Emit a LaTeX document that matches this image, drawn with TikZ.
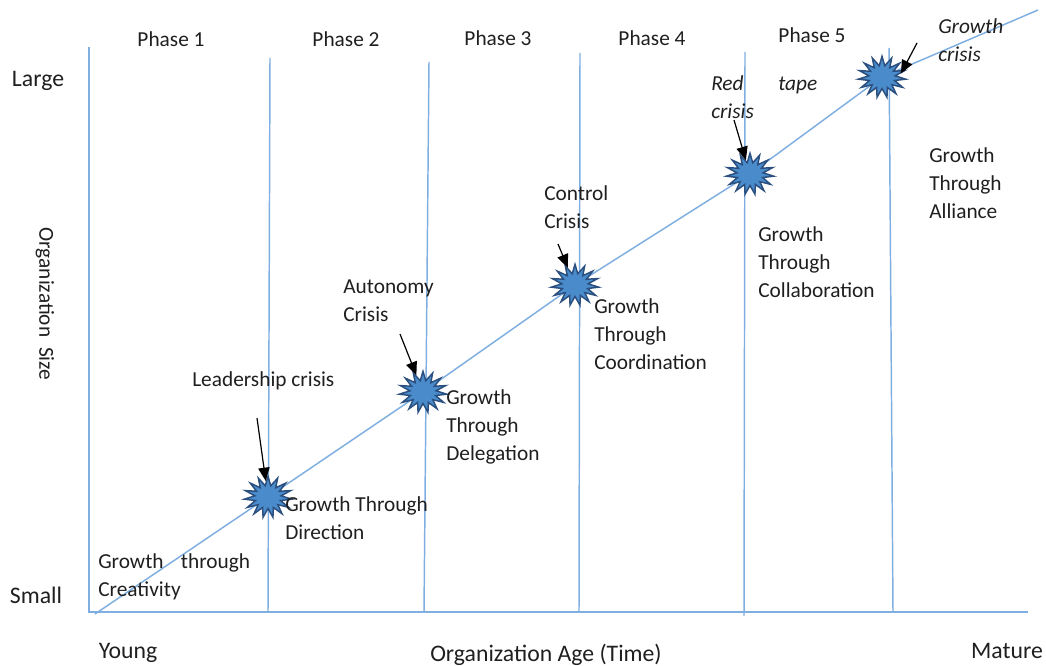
\documentclass[tikz,border=0pt]{standalone}
\usepackage{fontspec}
\setmainfont{Carlito}
\usetikzlibrary{shapes.geometric,arrows.meta}
\definecolor{lineblue}{HTML}{7FAEE0}
\definecolor{starfill}{HTML}{4A8CCB}
\definecolor{stardraw}{HTML}{2B4F7E}
\begin{document}
\begin{tikzpicture}[x=0.75pt,y=-0.75pt,
  txt/.style={font=\fontsize{16}{21}\selectfont, inner sep=0pt, align=left, anchor=north west, text=black!88},
  lbl/.style={font=\fontsize{16}{21}\selectfont, inner sep=0pt, text=black!88},
  axl/.style={font=\fontsize{17.8}{21}\selectfont, inner sep=0pt, text=black!88},
  burst/.style={star, star points=15, star point ratio=1.8, minimum size=31pt, inner sep=0pt,
    fill=starfill, draw=stardraw, line width=1.1pt, xscale=1.15, transform shape},
  guide/.style={draw=lineblue, line width=1.1pt},
  pointer/.style={draw=black, line width=0.9pt, -{Triangle[length=10pt,width=8.5pt]}}]
\useasboundingbox (0,0) rectangle (1046,666);

% axes and phase separators
\draw[guide] (89,47) -- (89,612) -- (1028,612);
\draw[guide] (270,58) -- (268,612);
\draw[guide] (429,62) -- (424,612);
\draw[guide] (580,53) -- (579,612);
\draw[guide] (745,52) -- (744,616);
\draw[guide] (889,48) -- (893,612);

% star centres and diagonal
\coordinate (p0) at (95,614);
\coordinate (p1) at (268,497);
\coordinate (p2) at (423,392);
\coordinate (p3) at (575,285);
\coordinate (p4) at (750,174);
\coordinate (p5) at (882,77);
\coordinate (p6) at (1038,10);
\draw[guide] (p0) -- (p1) -- (p2) -- (p3) -- (p4) -- (p5) -- (p6);

% starbursts
\node[burst] (s1) at (p1) {};
\node[burst] (s2) at (p2) {};
\node[burst] (s3) at (p3) {};
\node[burst] (s4) at (p4) {};
\node[burst] (s5) at (p5) {};

% arrows
\coordinate (c1) at (257,418);
\coordinate (c2) at (400,334);
\coordinate (c3) at (558,244);
\coordinate (c4) at (734,120);
\coordinate (c5) at (917,43);
\draw[pointer] (c1) -- (s1);
\draw[pointer] (c2) -- (s2);
\draw[pointer] (c3) -- (s3);
\draw[pointer] (c4) -- (s4);
\draw[pointer] (c5) -- (s5.12);

% phase titles
\node[lbl] (ph1) at (171,39) {Phase 1};
\node[lbl] (ph2) at (346,39) {Phase 2};
\node[lbl] (ph3) at (498,38) {Phase 3};
\node[lbl] (ph4) at (652,38) {Phase 4};
\node[lbl] (ph5) at (812,35) {Phase 5};

% axis labels
\node[axl] (large) at (38,81) {Large};
\node[axl] (small) at (36,595) {Small};
\node[axl] (young) at (128,653) {Young};
\node[axl] (age) at (546,655) {Organization Age (Time)};
\node[axl] (mature) at (1007,651) {Mature};
\node[lbl, rotate=-90] (size) at (45,304) {Organization\ \ Size};

% crisis labels
\node[txt, font=\fontsize{16}{21}\selectfont\itshape] (gcr) at (938,18) {Growth\\crisis};
\node[txt, font=\fontsize{16}{21}\selectfont\itshape] (rcr) at (711,75) {Red\hspace*{26pt}tape\\crisis};
\node[txt] (ccr) at (544,185) {Control\\Crisis};
\node[txt] (acr) at (343,280) {Autonomy\\Crisis};
\node[txt] (lcr) at (192,371) {Leadership crisis};

% growth labels
\node[txt] (g1) at (98,553) {Growth\hspace*{13pt}through\\Creativity};
\node[txt] (g2) at (285,496) {Growth Through\\Direction};
\node[txt] (g3) at (446,389) {Growth\\Through\\Delegation};
\node[txt] (g4) at (594,298) {Growth\\Through\\Coordination};
\node[txt] (g5) at (758,226) {Growth\\Through\\Collaboration};
\node[txt] (g6) at (929,147) {Growth\\Through\\Alliance};
\end{tikzpicture}
\end{document}
